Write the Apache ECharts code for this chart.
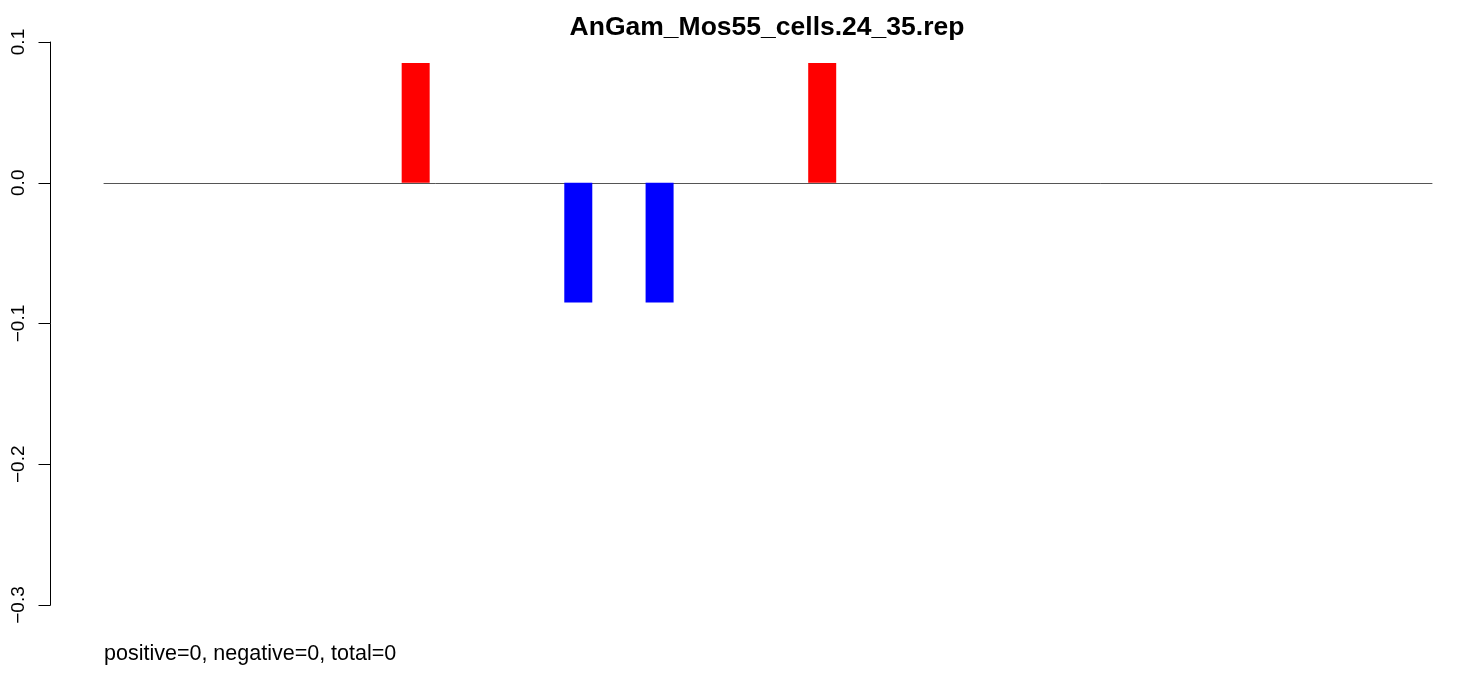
<!DOCTYPE html>
<html>
<head>
<meta charset="utf-8">
<script src="https://cdn.jsdelivr.net/npm/echarts@6/dist/echarts.min.js"></script>
<style>
html,body{margin:0;padding:0;background:#fff;}
#chart{width:1460px;height:676px;}
</style>
</head>
<body>
<div id="chart"></div>
<script>
// ---- data ----
const chartTitle = 'AnGam_Mos55_cells.24_35.rep';
const footerText = 'positive=0, negative=0, total=0';
const barIndex = [1,2,3,4,5,6,7,8,9,10,11,12,13,14,15,16];
const barValues = [0,0,0,0.085,0,-0.085,-0.085,0,0.085,0,0,0,0,0,0,0];
const yTicks = [-0.3,-0.2,-0.1,0.0,0.1];

// barplot-like layout: space = 2, width = 1
const SPACE = 2, WIDTH = 1;
const seriesData = barIndex.map((idx, k) => {
  const center = SPACE + (idx - 1) * (SPACE + WIDTH) + WIDTH / 2;
  const v = barValues[k];
  return {
    value: [center, v],
    itemStyle: { color: v >= 0 ? '#ff0000' : '#0000ff' }
  };
});

const FONT = '"Liberation Sans", Arial, Helvetica, sans-serif';
const chart = echarts.init(document.getElementById('chart'), null, { renderer: 'canvas' });
chart.setOption({
  animation: false,
  backgroundColor: '#ffffff',
  title: [
    {
      text: chartTitle,
      left: 767, top: 14, padding: 0, textAlign: 'center',
      textStyle: { fontFamily: FONT, fontSize: 26.5, fontWeight: 'bold', color: '#000' }
    },
    {
      text: footerText,
      left: 104, top: 643.5, padding: 0,
      textStyle: { fontFamily: FONT, fontSize: 21.5, fontWeight: 'normal', color: '#000' }
    }
  ],
  grid: { left: 104, right: 28, top: 42, bottom: 71, containLabel: false },
  xAxis: {
    type: 'value', min: 0, max: 49,
    axisLine: { show: true, onZero: true, lineStyle: { color: '#555555', width: 1 } },
    axisTick: { show: false }, axisLabel: { show: false }, splitLine: { show: false }
  },
  yAxis: {
    type: 'value', min: yTicks[0], max: yTicks[yTicks.length - 1], interval: 0.1,
    position: 'left', offset: 53.5,
    axisLine: { show: true, onZero: false, lineStyle: { color: '#000', width: 1 } },
    axisTick: { show: true, length: 12, inside: false, lineStyle: { color: '#000', width: 1 } },
    axisLabel: {
      rotate: 90, margin: 22, fontFamily: FONT, fontSize: 19, color: '#000',
      formatter: v => (Math.abs(v) < 1e-9 ? '0.0' : v.toFixed(1).replace('-', '\u2212'))
    },
    splitLine: { show: false }
  },
  series: [{
    type: 'bar',
    barWidth: 28,
    data: seriesData
  }]
});
</script>
</body>
</html>
